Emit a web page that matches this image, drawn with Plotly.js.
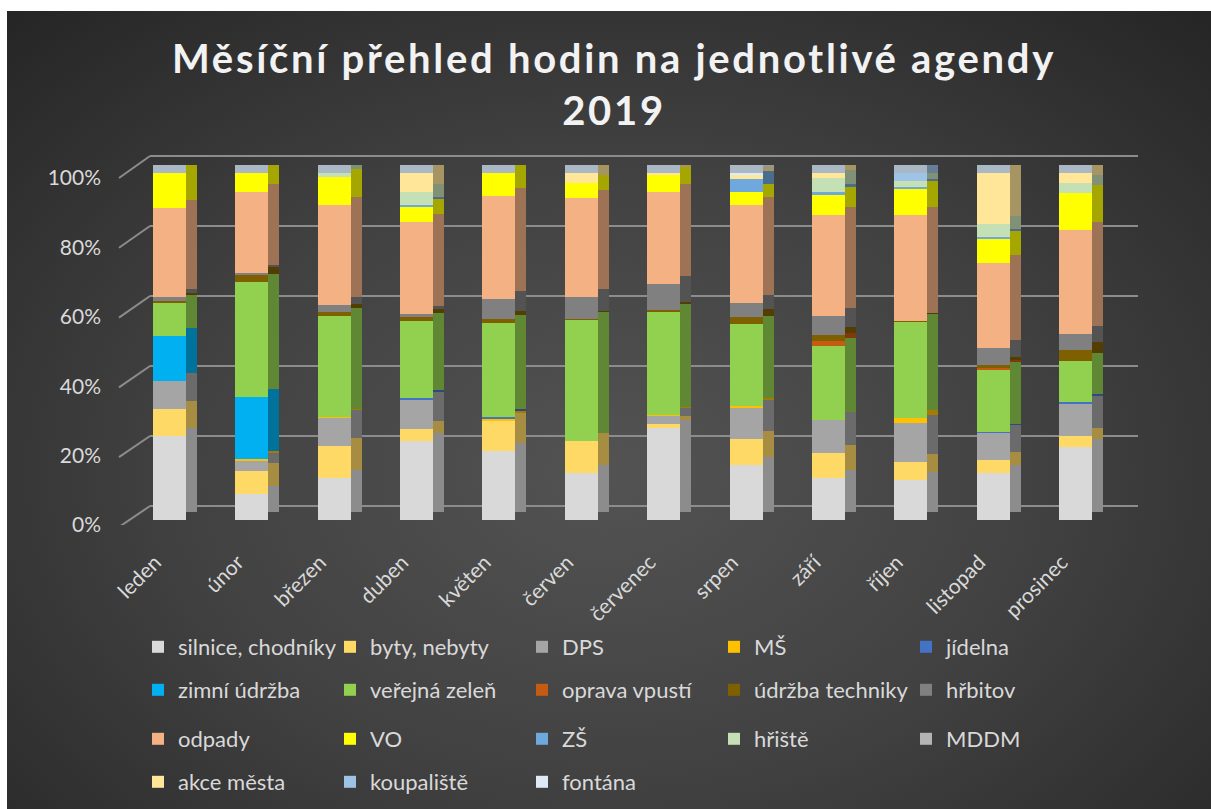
<!DOCTYPE html>
<html>
<head>
<meta charset="utf-8">
<script src="https://cdn.plot.ly/plotly-3.0.1.min.js"></script>
<style>
  html, body { margin:0; padding:0; background:#ffffff; width:1211px; height:809px; overflow:hidden; }
  #bg { position:absolute; left:7px; top:11px; width:1204px; height:798px;
        background: radial-gradient(ellipse 72% 78% at 50% 58%, #535353 0%, #414141 50%, #262626 100%); }
  #chart { position:absolute; left:0; top:0; width:1211px; height:809px; }
  #chart .gtitle { letter-spacing: 2.7px; }
</style>
</head>
<body>
<div id="bg"></div>
<div id="chart"></div>
<script>
// ---- data (share of hours, % per month) ----
const months = ['leden','únor','březen','duben','květen','červen','červenec','srpen','září','říjen','listopad','prosinec'];

const silnice    = [24.2, 7.4, 12.1, 22.7, 19.8, 13.7, 26.6, 15.8, 12.2, 11.5, 13.7, 21.0];
const byty       = [7.8, 6.8, 9.2, 3.4, 8.9, 9.2, 1.1, 7.6, 7.1, 5.3, 3.7, 3.1];
const dps        = [8.1, 2.9, 8.1, 8.4, 0, 0, 2.3, 9.1, 9.6, 11.2, 7.9, 9.6];
const ms         = [0, 0.5, 0.4, 0, 0.5, 0, 0.4, 0.3, 0, 1.5, 0, 0];
const jidelna    = [0, 0, 0, 0.6, 0.4, 0, 0, 0, 0, 0, 0.2, 0.3];
const zimni      = [12.9, 17.9, 0, 0, 0, 0, 0, 0, 0, 0, 0, 0];
const zelen      = [9.6, 33.1, 29.1, 22.2, 27.1, 34.9, 29.4, 23.6, 21.2, 27.7, 17.8, 11.8];
const oprava     = [0, 0, 0, 0, 0, 0, 0, 0, 1.5, 0, 0.5, 0];
const udrzba     = [0.5, 2.0, 0.9, 1.1, 1.3, 0.3, 0.6, 2.1, 1.7, 0.3, 0.9, 3.2];
const hrbitov    = [1.2, 0.7, 2.3, 1.0, 5.8, 6.3, 7.5, 4.0, 5.3, 0, 4.8, 4.5];
const odpady     = [25.5, 23.4, 28.7, 26.3, 29.7, 28.6, 26.6, 28.5, 29.1, 30.6, 24.7, 30.1];
const vo         = [10.2, 5.4, 8.1, 4.5, 6.5, 4.4, 4.8, 3.5, 6.0, 7.3, 6.9, 10.5];
const zs         = [0, 0, 0, 0.4, 0, 0, 0, 3.9, 0.8, 0.6, 0.6, 0];
const hriste     = [0, 0, 1.1, 3.9, 0, 0, 0, 0, 4.0, 1.7, 3.7, 3.1];
const mddm       = [0, 0, 0, 0, 0, 0, 0, 0, 0, 0, 0, 0];
const akce       = [0, 0, 0, 5.4, 0, 2.8, 0.7, 1.0, 1.4, 0, 14.7, 2.8];
const koupaliste = [0, 0, 0, 0, 0, 0, 0, 0, 0, 2.4, 0, 0];
const fontana    = [0, 0, 0, 0, 0, 0, 0, 0.7, 0, 0, 0, 0];

const yTicks = [0, 20, 40, 60, 80, 100];

const seriesNames = ['silnice, chodníky','byty, nebyty','DPS','MŠ','jídelna','zimní údržba','veřejná zeleň','oprava vpustí','údržba techniky','hřbitov','odpady','VO','ZŠ','hřiště','MDDM','akce města','koupaliště','fontána'];
const seriesData  = [silnice, byty, dps, ms, jidelna, zimni, zelen, oprava, udrzba, hrbitov, odpady, vo, zs, hriste, mddm, akce, koupaliste, fontana];
const frontColors = ['#d9d9d9','#ffd966','#a5a5a5','#ffc000','#4472c4','#00b0f0','#92d050','#c55a11','#7f6000','#808080','#f4b183','#ffff00','#6fa8dc','#c5e0b4','#b4b4b4','#ffe699','#9dc3e6','#deebf7'];
const sideColors  = ['#8c8c8c','#a68d42','#6b6b6b','#a67c00','#2c4a7f','#00729c','#5f8734','#80390b','#523e00','#535353','#9e7355','#a6a600','#486d8f','#809175','#757575','#a69563','#667f96','#9099a0'];
const topColor = '#aab7c4';

// normalize each month to 100 %
const totals = months.map((m, i) => seriesData.reduce((s, arr) => s + arr[i], 0));
const norm = seriesData.map(arr => arr.map((v, i) => v / totals[i] * 100));
const full = totals.map(t => t / t * 100);

// ---- geometry (page pixels) ----
const W = 1211, H = 809;
const mT = 150, mB = 284, mL = 128, mR = 94;
const plotBottom = H - mB, plotTop = mT;
const plotW = W - mL - mR;
const pxPerPct = 3.47;                 // vertical pixels per 1 %
// axis range so that value 0 lies on page row zeroRow
const rangeFor = zeroRow => [(zeroRow - plotBottom) / pxPerPct, (zeroRow - plotTop) / pxPerPct];
const labelZero = 525, frontZero = 520, sideZero = 512;
const rowToVal = py => (labelZero - py) / pxPerPct;   // value on label axis
const colToPaper = px => (px - mL) / plotW;

const frontOff = -0.2, frontW = 0.4, sideOff = 0.2, sideW = 0.134;

const traces = [];
// top face (behind front/side, only its top strip stays visible)
traces.push({type:'bar', x:months, y:full, yaxis:'y3', offset:frontOff, width:frontW+sideW,
  marker:{color:topColor, line:{width:0}}, showlegend:false, hoverinfo:'skip'});
// side faces
seriesData.forEach((arr, k) => {
  traces.push({type:'bar', x:months, y:norm[k], yaxis:'y4', offset:sideOff, width:sideW,
    marker:{color:sideColors[k], line:{width:0}}, showlegend:false, hoverinfo:'skip'});
});
// front faces
const legendIds = ['legend','legend2','legend3','legend4'];
seriesData.forEach((arr, k) => {
  traces.push({type:'bar', x:months, y:norm[k], yaxis:'y5', offset:frontOff, width:frontW,
    name:seriesNames[k], legend:legendIds[Math.floor(k/5)],
    marker:{color:frontColors[k], line:{width:0}},
    hovertemplate:'%{x}: %{y:.1f}%<extra>'+seriesNames[k]+'</extra>'});
});

// gridlines on the back wall + diagonals to the front
const gridColor = '#8c8c8c';
const shapes = [];
yTicks.forEach(t => {
  const backRow = 506 - t * 3.5;
  const frontRow = 527 - t * 3.49;
  shapes.push({type:'line', layer:'below', xref:'paper', yref:'y',
    x0:colToPaper(150), x1:colToPaper(1138), y0:rowToVal(backRow), y1:rowToVal(backRow),
    line:{color:gridColor, width:2}});
  shapes.push({type:'line', layer:'below', xref:'paper', yref:'y',
    x0:colToPaper(119), x1:colToPaper(150), y0:rowToVal(frontRow), y1:rowToVal(backRow),
    line:{color:gridColor, width:2}});
});

const fontFam = 'Lato, "Open Sans", sans-serif';
const legendYs = [647, 690, 739, 782];
const legendBase = {orientation:'h', xref:'container', x:138/W, xanchor:'left', yref:'container', yanchor:'middle',
  entrywidth:147, entrywidthmode:'pixels', bgcolor:'rgba(0,0,0,0)', borderwidth:0, traceorder:'normal',
  font:{family:fontFam, size:22, color:'#d9d9d9'}, itemclick:false, itemdoubleclick:false};

const layout = {
  width:W, height:H,
  paper_bgcolor:'rgba(0,0,0,0)', plot_bgcolor:'rgba(0,0,0,0)',
  margin:{t:mT, b:mB, l:mL, r:mR, pad:0},
  barmode:'stack',
  title:{text:'Měsíční přehled hodin na jednotlivé agendy<br>2019', xref:'container', x:614/W, xanchor:'center',
    yref:'container', y:1-73/H, yanchor:'top',
    font:{family:fontFam, size:40, weight:'bold', color:'#f2f2f2'}},
  xaxis:{type:'category', categoryorder:'array', categoryarray:months, range:[-0.5, 11.5],
    showgrid:false, zeroline:false, showline:false, ticks:'', tickangle:-45,
    ticklabelstandoff:20, ticklabelshift:-14,
    tickfont:{family:fontFam, size:21, color:'#d9d9d9'}, fixedrange:true},
  yaxis:{range:rangeFor(labelZero), tickvals:yTicks, ticktext:yTicks.map(v => v + '%'), showgrid:false, zeroline:false,
    showline:false, ticks:'', ticklabelstandoff:26,
    tickfont:{family:fontFam, size:21, color:'#d9d9d9'}, fixedrange:true},
  yaxis3:{overlaying:'y', range:rangeFor(sideZero), visible:false, fixedrange:true},
  yaxis4:{overlaying:'y', range:rangeFor(sideZero), visible:false, fixedrange:true},
  yaxis5:{overlaying:'y', range:rangeFor(frontZero), visible:false, fixedrange:true},
  shapes:shapes,
  legend:Object.assign({}, legendBase, {y:1 - legendYs[0]/H}),
  legend2:Object.assign({}, legendBase, {y:1 - legendYs[1]/H}),
  legend3:Object.assign({}, legendBase, {y:1 - legendYs[2]/H}),
  legend4:Object.assign({}, legendBase, {y:1 - legendYs[3]/H}),
  showlegend:true
};

Plotly.newPlot('chart', traces, layout, {displayModeBar:false, staticPlot:false, responsive:false});
</script>
</body>
</html>
